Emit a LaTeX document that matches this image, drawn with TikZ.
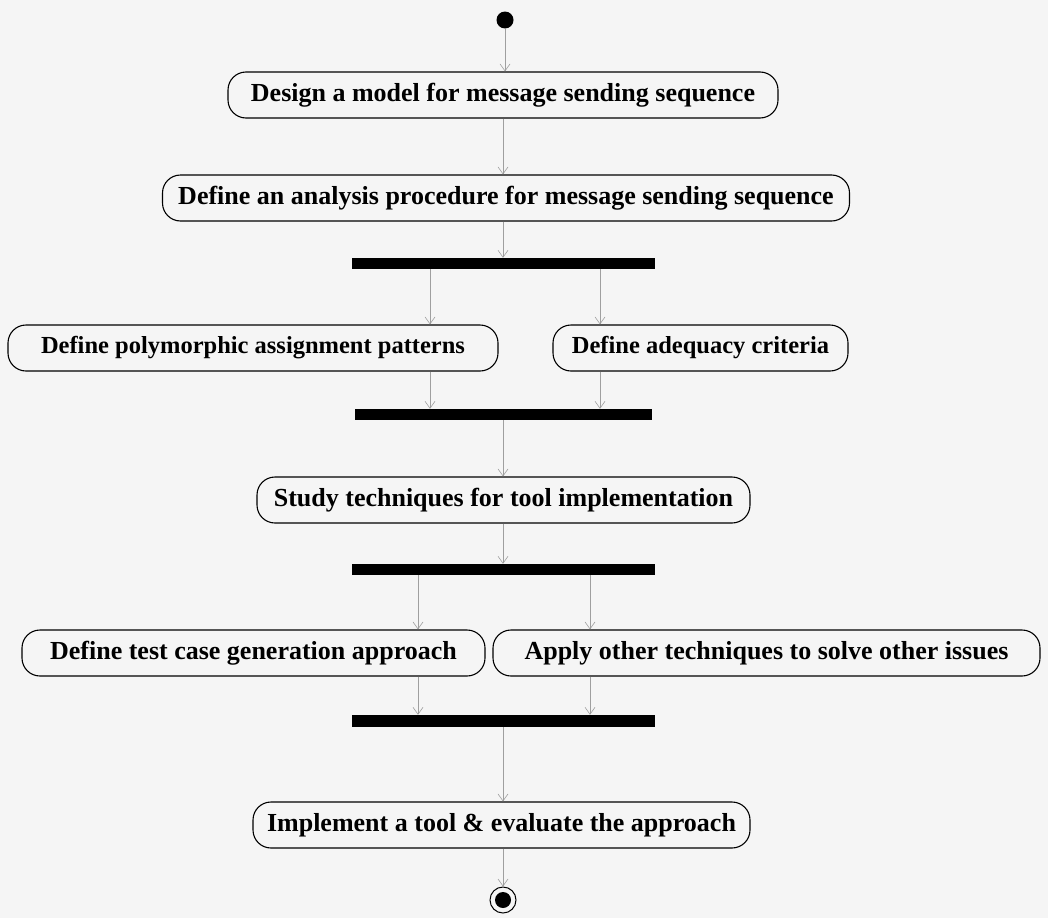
\documentclass[tikz,border=0pt]{standalone}
\usepackage{fontspec}
\setmainfont{Liberation Serif}
\usetikzlibrary{arrows.meta,calc}
\begin{document}
\begin{tikzpicture}[x=1pt,y=-1pt,
  act/.style={draw, line width=1.1pt, rounded corners=18pt, minimum height=46pt, inner sep=0pt,
    font=\fontsize{26}{28}\selectfont\bfseries},
  actsm/.style={act, font=\fontsize{24.5}{27}\selectfont\bfseries},
  bar/.style={fill=black, draw=none, minimum height=11pt, inner sep=0pt},
  arr/.style={draw=gray!75, line width=0.6pt, -{Straight Barb[length=7pt,width=10pt]}}]
\fill[gray!8] (0,0) rectangle (1048,918);
\useasboundingbox (0,0) rectangle (1048,918);
\node[circle, fill=black, minimum size=17pt, inner sep=0pt] (start) at (505,20) {};
\node[act, minimum width=550pt] (d1) at (503,95) {Design a model for message sending sequence};
\node[act, minimum width=687pt] (d2) at (506,198) {Define an analysis procedure for message sending sequence};
\node[bar, minimum width=303pt] (b1) at (503.5,263.5) {};
\node[actsm, minimum width=490pt] (p1) at (253,348) {Define polymorphic assignment patterns};
\node[actsm, minimum width=295pt] (p2) at (700.5,348) {Define adequacy criteria};
\node[bar, minimum width=297pt] (b2) at (503.5,414.5) {};
\node[act, minimum width=493pt] (s) at (503.5,500) {Study techniques for tool implementation};
\node[bar, minimum width=303pt] (b3) at (503.5,569.5) {};
\node[act, minimum width=463pt] (t1) at (253.5,653) {Define test case generation approach};
\node[act, minimum width=547pt] (t2) at (766.5,653) {Apply other techniques to solve other issues};
\node[bar, minimum width=303pt, minimum height=12pt] (b4) at (503.5,721) {};
\node[act, minimum width=497pt] (im) at (501.5,825) {Implement a tool \& evaluate the approach};
\node[circle, draw, line width=1pt, minimum size=26pt, inner sep=0pt] (end) at (503,900) {};
\fill (end) circle (8pt);
\coordinate (xa) at (430,0);
\coordinate (xb) at (600,0);
\coordinate (xc) at (418,0);
\coordinate (xd) at (590,0);
\coordinate (xm) at (503,0);
\draw[arr] (start.south) -- (d1.north -| start);
\draw[arr] (d1.south -| xm) -- (d2.north -| xm);
\draw[arr] (d2.south -| xm) -- (b1.north -| xm);
\draw[arr] (b1.south -| xa) -- (p1.north -| xa);
\draw[arr] (b1.south -| xb) -- (p2.north -| xb);
\draw[arr] (p1.south -| xa) -- (b2.north -| xa);
\draw[arr] (p2.south -| xb) -- (b2.north -| xb);
\draw[arr] (b2.south -| xm) -- (s.north -| xm);
\draw[arr] (s.south -| xm) -- (b3.north -| xm);
\draw[arr] (b3.south -| xc) -- (t1.north -| xc);
\draw[arr] (b3.south -| xd) -- (t2.north -| xd);
\draw[arr] (t1.south -| xc) -- (b4.north -| xc);
\draw[arr] (t2.south -| xd) -- (b4.north -| xd);
\draw[arr] (b4.south -| xm) -- (im.north -| xm);
\draw[arr] (im.south -| xm) -- (end.north);
\end{tikzpicture}
\end{document}
